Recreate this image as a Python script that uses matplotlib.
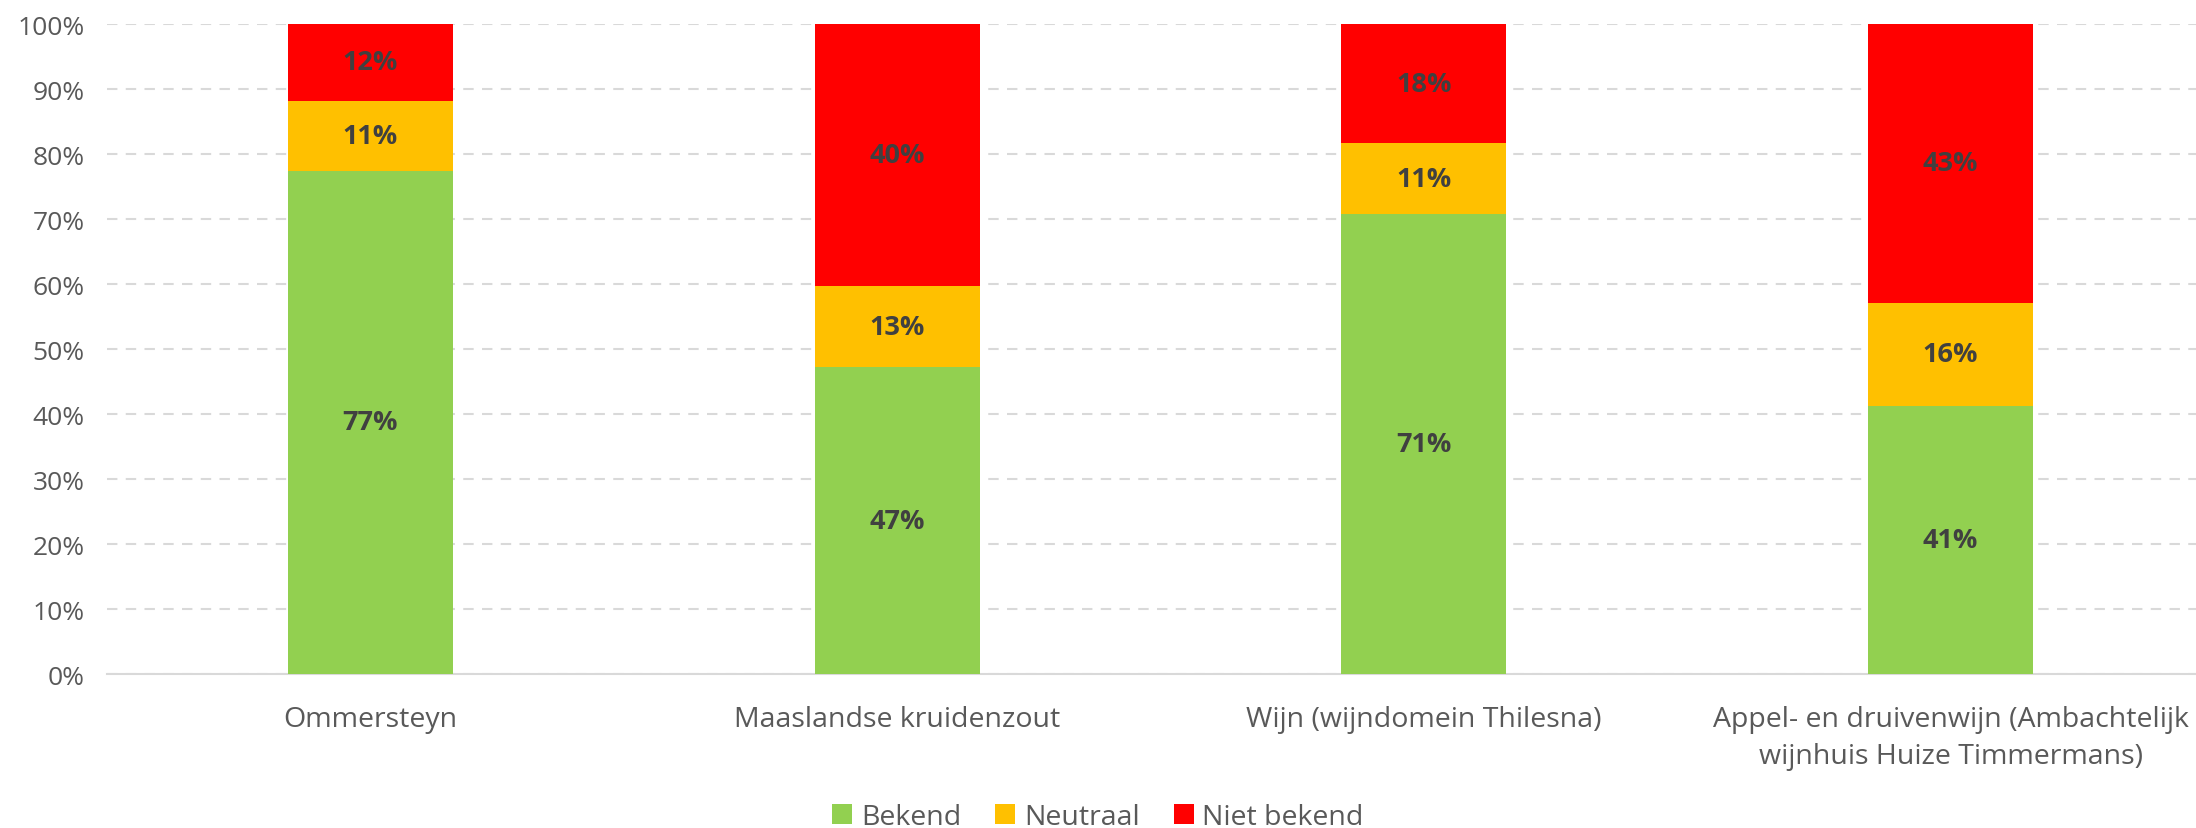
import matplotlib.pyplot as plt
import numpy as np
from matplotlib.ticker import PercentFormatter

# data
producten = ['Ommersteyn', 'Maaslandse kruidenzout', 'Wijn (wijndomein Thilesna)',
             'Appel- en druivenwijn (Ambachtelijk\nwijnhuis Huize Timmermans)']
bekend = [77.4, 47.2, 70.7, 41.3]
neutraal = [10.8, 12.5, 11.0, 15.8]
niet_bekend = [11.8, 40.3, 18.3, 42.9]
labels_bekend = ['77%', '47%', '71%', '41%']
labels_neutraal = ['11%', '13%', '11%', '16%']
labels_niet = ['12%', '40%', '18%', '43%']

reeksen = [
    ('Bekend', bekend, labels_bekend, '#92D050'),
    ('Neutraal', neutraal, labels_neutraal, '#FFC000'),
    ('Niet bekend', niet_bekend, labels_niet, '#FF0000'),
]

plt.rcParams['font.family'] = ['Open Sans', 'DejaVu Sans']

fig = plt.figure(figsize=(21.96, 8.29), dpi=100)
ax = fig.add_axes([0.0487, 0.1857, 0.9595, 0.7841])

x = np.arange(len(producten))
onder = np.zeros(len(producten))
for naam, waarden, teksten, kleur in reeksen:
    bars = ax.bar(x, waarden, width=0.313, bottom=onder, color=kleur, label=naam, zorder=3)
    ax.bar_label(bars, labels=teksten, label_type='center', fontsize=19.5,
                 fontweight='bold', color='#404040', zorder=4)
    onder += np.array(waarden)

ax.set_xlim(-0.5, len(producten) - 0.5)
ax.set_ylim(0, 100)
ax.set_yticks(np.arange(0, 101, 10))
ax.yaxis.set_major_formatter(PercentFormatter(decimals=0))
ax.grid(axis='y', color='#d9d9d9', linestyle=(0, (5, 4)), linewidth=1.5, zorder=0)

ax.set_xticks(x)
ax.set_xticklabels(producten, fontsize=20.5, color='#595959', linespacing=1.45)
ax.tick_params(axis='x', length=0, pad=22)
ax.tick_params(axis='y', length=0, pad=16, labelsize=19, labelcolor='#595959')

for side in ['top', 'right', 'left']:
    ax.spines[side].set_visible(False)
ax.spines['bottom'].set_color('#d9d9d9')
ax.spines['bottom'].set_linewidth(1.5)

fig.legend(loc='lower center', bbox_to_anchor=(0.5, -0.035), ncol=3, frameon=False,
           fontsize=20.5, labelcolor='#595959', handlelength=0.7, handleheight=0.7,
           handletextpad=0.3, columnspacing=1.2)

fig.savefig('out.png', dpi=100)
